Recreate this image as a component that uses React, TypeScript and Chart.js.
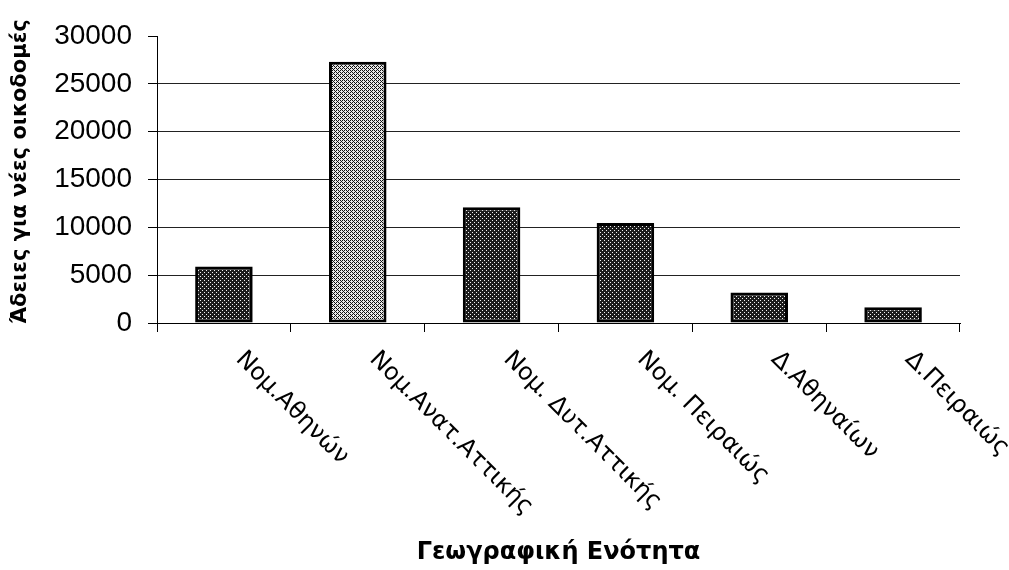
import { useEffect, useRef } from "react";
import { Chart, registerables } from "chart.js";
Chart.register(...registerables);

const categories = [
  "Νομ.Αθηνών",
  "Νομ.Ανατ.Αττικής",
  "Νομ. Δυτ.Αττικής",
  "Νομ. Πειραιώς",
  "Δ.Αθηναίων",
  "Δ.Πειραιώς",
];
const permits = [5900, 27300, 12100, 10450, 3200, 1650];
const yTicks = [0, 5000, 10000, 15000, 20000, 25000, 30000];
const yTitle = "Άδειες για νέες οικοδομές";
const xTitle = "Γεωγραφική Ενότητα";
const lightBars = [false, true, false, false, false, false];

function makePattern(light: boolean): CanvasPattern | string {
  const c = document.createElement("canvas");
  c.width = 4;
  c.height = 4;
  const g = c.getContext("2d");
  if (!g) return light ? "#999" : "#444";
  if (light) {
    g.fillStyle = "#e8e8e8";
    g.fillRect(0, 0, 4, 4);
    g.fillStyle = "#111";
    g.fillRect(0, 0, 1, 1);
    g.fillRect(1, 1, 1, 1);
    g.fillRect(2, 2, 1, 1);
    g.fillRect(3, 3, 1, 1);
    g.fillRect(2, 0, 1, 1);
    g.fillRect(0, 2, 1, 1);
  } else {
    g.fillStyle = "#1c1c1c";
    g.fillRect(0, 0, 4, 4);
    g.fillStyle = "#f2f2f2";
    g.fillRect(0, 0, 1, 1);
    g.fillRect(2, 2, 1, 1);
  }
  const p = g.createPattern(c, "repeat");
  return p || (light ? "#999" : "#444");
}

const labelPlugin = {
  id: "customLabels",
  afterDraw(chart: any) {
    const ctx = chart.ctx as CanvasRenderingContext2D;
    const xs = chart.scales.x;
    const area = chart.chartArea;
    ctx.save();
    ctx.fillStyle = "#000";
    ctx.font = '24px "DejaVu Sans", sans-serif';
    ctx.textAlign = "left";
    ctx.textBaseline = "top";
    categories.forEach((c, i) => {
      const px = xs.getPixelForValue(i);
      ctx.save();
      ctx.translate(px + 24, area.bottom + 24);
      ctx.rotate(Math.PI / 4);
      ctx.fillText(c, 0, 0);
      ctx.restore();
    });
    ctx.font = 'bold 24px "DejaVu Sans", sans-serif';
    ctx.textAlign = "center";
    ctx.textBaseline = "middle";
    ctx.fillText(xTitle, (area.left + area.right) / 2, 553);
    ctx.font = 'bold 21px "DejaVu Sans", sans-serif';
    ctx.save();
    ctx.translate(21, (area.top + area.bottom) / 2 - 8);
    ctx.rotate(-Math.PI / 2);
    ctx.fillText(yTitle, 0, 0);
    ctx.restore();
    ctx.restore();
  },
};

export default function App() {
  const ref = useRef<HTMLCanvasElement | null>(null);
  useEffect(() => {
    if (!ref.current) return;
    const colors = lightBars.map((l) => makePattern(l));
    const chart = new Chart(ref.current, {
      type: "bar",
      data: {
        labels: categories,
        datasets: [
          {
            data: permits,
            backgroundColor: colors as any,
            borderColor: "#000",
            borderWidth: 3,
            borderSkipped: false,
            barPercentage: 0.43,
            categoryPercentage: 1,
          },
        ],
      },
      options: {
        responsive: false,
        animation: false,
        layout: { padding: { left: 0, right: 49, top: 36, bottom: 0 } },
        plugins: { legend: { display: false }, tooltip: { enabled: false } },
        scales: {
          x: {
            offset: true,
            grid: {
              offset: true,
              drawOnChartArea: false,
              drawTicks: true,
              tickLength: 9,
              color: "#000",
              tickColor: "#000",
            },
            border: { display: true, color: "#000", width: 1 },
            ticks: { display: false },
            afterFit: (s: any) => {
              s.height = 247;
            },
          },
          y: {
            min: yTicks[0],
            max: yTicks[yTicks.length - 1],
            ticks: {
              stepSize: yTicks[1] - yTicks[0],
              color: "#000",
              padding: 16,
              font: { family: '"Liberation Sans", Arial, sans-serif', size: 28 },
              callback: (v: any) => String(v),
            },
            grid: {
              color: (c: any) =>
                c.tick && c.tick.value === yTicks[yTicks.length - 1] ? "rgba(0,0,0,0)" : "#222",
              tickColor: "#000",
              tickLength: 9,
              lineWidth: 1,
            },
            border: { display: true, color: "#000", width: 1 },
            afterFit: (s: any) => {
              s.width = 157;
            },
          },
        },
      },
      plugins: [labelPlugin],
    });
    return () => chart.destroy();
  }, []);
  return (
    <div style={{ position: "absolute", left: 0, top: 0, width: 1009, height: 570, background: "#fff" }}>
      <canvas ref={ref} width={1009} height={570} style={{ width: 1009, height: 570, display: "block" }} />
    </div>
  );
}
